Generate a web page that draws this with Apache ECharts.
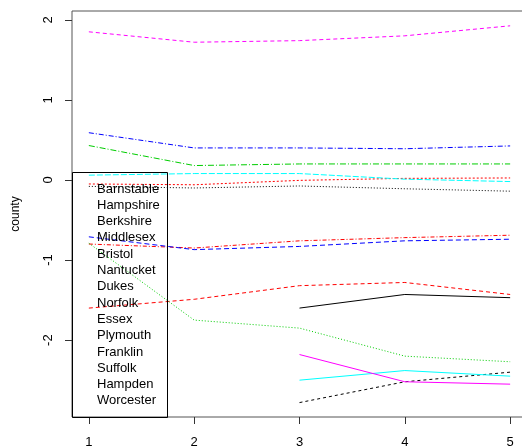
<!DOCTYPE html>
<html>
<head>
<meta charset="utf-8">
<script src="https://cdn.jsdelivr.net/npm/echarts@6/dist/echarts.min.js"></script>
<style>html,body{margin:0;padding:0;background:#fff;}#c{width:522px;height:447px;}</style>
</head>
<body>
<div id="c"></div>
<script>
// x levels
var xLevels = [1, 2, 3, 4, 5];
var yTicks = [-2, -1, 0, 1, 2];
// county names (legend order)
var counties = ["Barnstable","Hampshire","Berkshire","Middlesex","Bristol","Nantucket","Dukes","Norfolk","Essex","Plymouth","Franklin","Suffolk","Hampden","Worcester"];
// values at x = 1..5 (null = missing)
var Barnstable = [1.85, 1.72, 1.74, 1.80, 1.925];
var Hampshire  = [0.59, 0.40, 0.40, 0.39, 0.425];
var Berkshire  = [0.43, 0.18, 0.20, 0.20, 0.20];
var Middlesex  = [-0.05, -0.06, -0.005, 0.02, 0.025];
var Bristol    = [0.06, 0.08, 0.08, 0.01, -0.02];
var Nantucket  = [-0.08, -0.10, -0.075, -0.11, -0.14];
var Dukes      = [-0.80, -0.85, -0.76, -0.72, -0.69];
var Norfolk    = [-0.71, -0.87, -0.83, -0.76, -0.74];
var Essex      = [-1.60, -1.49, -1.32, -1.28, -1.43];
var Plymouth   = [null, null, -1.60, -1.43, -1.47];
var Franklin   = [-0.79, -1.75, -1.85, -2.20, -2.27];
var Suffolk    = [null, null, -2.78, -2.52, -2.40];
var Hampden    = [null, null, -2.50, -2.38, -2.45];
var Worcester  = [null, null, -2.18, -2.52, -2.55];
var seriesValues = [Barnstable,Hampshire,Berkshire,Middlesex,Bristol,Nantucket,Dukes,Norfolk,Essex,Plymouth,Franklin,Suffolk,Hampden,Worcester];

var colors = ["#FF00FF","#0000FF","#00CD00","#FF0000","#00FFFF","#000000","#FF0000","#0000FF","#FF0000","#000000","#00CD00","#000000","#00FFFF","#FF00FF"];
var dashes = [[4,3],[5,2,1,2],[6,2,1,2],[2,2],[6,2],[1,2],[4,2,1,2],[5,3],[4,3],'solid',[1,2],[3,3],'solid','solid'];

var series = counties.map(function(name, i){
  var data = [];
  seriesValues[i].forEach(function(v, j){ if (v !== null) data.push([xLevels[j], v]); });
  return {
    name: name, type: 'line', data: data, symbol: 'none', silent: true,
    lineStyle: { color: colors[i], width: 1, type: dashes[i] },
    animation: false
  };
});

var font = 'Liberation Sans, Arial, sans-serif';
var legendGraphics = [{
  type: 'rect', z: 100,
  shape: { x: 72.5, y: 172.5, width: 95, height: 245 },
  style: { fill: 'none', stroke: '#000', lineWidth: 1 }
}];
counties.forEach(function(name, i){
  legendGraphics.push({
    type: 'text', x: 97, y: 189 + i * 16.3, z: 101,
    style: { text: name, font: '13px ' + font, fill: '#000', textVerticalAlign: 'middle', verticalAlign: 'middle' }
  });
});

var chart = echarts.init(document.getElementById('c'), null, {renderer: 'canvas'});
chart.setOption({
  animation: false,
  backgroundColor: '#fff',
  grid: { left: 72, top: 11, width: 455, height: 406, show: true, borderColor: '#555', borderWidth: 1, backgroundColor: 'transparent', containLabel: false, outerBoundsMode: 'none' },
  xAxis: {
    type: 'value', min: 0.84, max: 5.16,
    axisLine: { show: false, onZero: false },
    splitLine: { show: false },
    axisTick: { show: true, customValues: xLevels, length: 7, inside: false, lineStyle: { color: '#333' } },
    axisLabel: { customValues: xLevels, color: '#000', fontSize: 13, fontFamily: font, margin: 19 }
  },
  yAxis: {
    type: 'value', min: -2.96, max: 2.11,
    name: 'county', nameLocation: 'middle', nameGap: 50, nameRotate: 90,
    nameTextStyle: { color: '#000', fontSize: 12, fontFamily: font },
    axisLine: { show: false, onZero: false },
    splitLine: { show: false },
    axisTick: { show: true, customValues: yTicks, length: 7, lineStyle: { color: '#333' } },
    axisLabel: { customValues: yTicks, rotate: 90, color: '#000', fontSize: 13, fontFamily: font, margin: 17 }
  },
  series: series,
  graphic: legendGraphics
});
</script>
</body>
</html>
